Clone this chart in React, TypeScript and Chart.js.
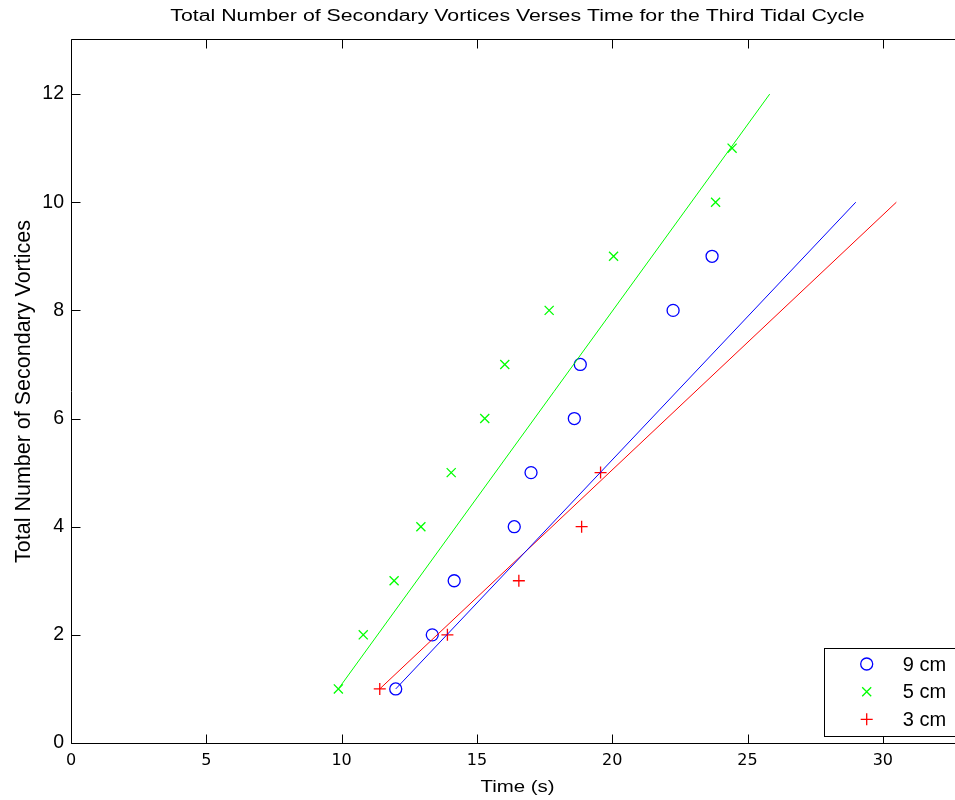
import React, { useEffect, useRef } from "react";
import { Chart, registerables } from "chart.js";

Chart.register(...registerables);

const chartTitle = "Total Number of Secondary Vortices Verses Time for the Third Tidal Cycle";
const xAxisLabel = "Time (s)";
const yAxisLabel = "Total Number of Secondary Vortices";
const xTicks = [0, 5, 10, 15, 20, 25, 30];
const yTicks = [0, 2, 4, 6, 8, 10, 12];
const seriesNames = ["9 cm", "5 cm", "3 cm"];

// 9 cm (blue circles)
const time9 = [12.0, 13.35, 14.16, 16.38, 17.0, 18.6, 18.82, 22.25, 23.69];
const count9 = [1, 2, 3, 4, 5, 6, 7, 8, 9];
// 5 cm (green x)
const time5 = [9.88, 10.8, 11.94, 12.93, 14.05, 15.29, 16.03, 17.67, 20.05, 23.82, 24.43];
const count5 = [1, 2, 3, 4, 5, 6, 7, 8, 9, 10, 11];
// 3 cm (red +)
const time3 = [11.41, 13.91, 16.55, 18.87, 19.57];
const count3 = [1, 2, 3, 4, 5];

// trend lines
const fit9X = [12.0, 29.0];
const fit9Y = [1, 10];
const fit5X = [9.88, 25.82];
const fit5Y = [1, 12];
const fit3X = [11.41, 30.5];
const fit3Y = [1, 10];

const BLUE = "#0000ff";
const GREEN = "#00ff00";
const RED = "#ff0000";

const pts = (xs: number[], ys: number[]) => xs.map((x, i) => ({ x, y: ys[i] }));

function drawMarker(ctx: CanvasRenderingContext2D, kind: string, x: number, y: number, color: string) {
  ctx.save();
  ctx.strokeStyle = color;
  ctx.lineWidth = 1.3;
  ctx.beginPath();
  if (kind === "circle") {
    ctx.arc(x, y, 6, 0, Math.PI * 2);
  } else if (kind === "crossRot") {
    const d = 4.5;
    ctx.moveTo(x - d, y - d);
    ctx.lineTo(x + d, y + d);
    ctx.moveTo(x - d, y + d);
    ctx.lineTo(x + d, y - d);
  } else {
    const d = 6;
    ctx.moveTo(x - d, y);
    ctx.lineTo(x + d, y);
    ctx.moveTo(x, y - d);
    ctx.lineTo(x, y + d);
  }
  ctx.stroke();
  ctx.restore();
}

const framePlugin = {
  id: "matlabFrame",
  afterDraw(chart: any) {
    const { ctx, chartArea: a, scales } = chart;
    const xs = scales.x;
    const ys = scales.y;
    ctx.save();
    ctx.strokeStyle = "#000";
    ctx.lineWidth = 1;
    ctx.beginPath();
    ctx.moveTo(a.left + 0.5, a.bottom + 0.5);
    ctx.lineTo(a.left + 0.5, a.top - 0.5);
    ctx.lineTo(a.right + 0.5, a.top - 0.5);
    ctx.lineTo(a.right + 0.5, a.bottom + 0.5);
    ctx.lineTo(a.left + 0.5, a.bottom + 0.5);
    ctx.stroke();
    const tl = 9;
    ctx.beginPath();
    xTicks.forEach((v) => {
      const px = Math.round(xs.getPixelForValue(v)) + 0.5;
      ctx.moveTo(px, a.bottom + 0.5);
      ctx.lineTo(px, a.bottom + 0.5 - tl);
      ctx.moveTo(px, a.top - 0.5);
      ctx.lineTo(px, a.top - 0.5 + tl);
    });
    yTicks.forEach((v) => {
      const py = Math.round(ys.getPixelForValue(v)) + 0.5;
      ctx.moveTo(a.left + 0.5, py);
      ctx.lineTo(a.left + 0.5 + tl, py);
      ctx.moveTo(a.right + 0.5, py);
      ctx.lineTo(a.right + 0.5 - tl, py);
    });
    ctx.stroke();

    // title
    const cx = (a.left + a.right) / 2;
    ctx.fillStyle = "#000";
    ctx.save();
    ctx.translate(cx, 20.7);
    ctx.scale(1.331, 1);
    ctx.font = "16px 'Liberation Sans', Arial, sans-serif";
    ctx.textAlign = "center";
    ctx.textBaseline = "alphabetic";
    ctx.fillText(chartTitle, 0, 0);
    ctx.restore();

    // x label
    ctx.save();
    ctx.translate(cx, 791.7);
    ctx.scale(1.255, 1);
    ctx.font = "16.3px 'Liberation Sans', Arial, sans-serif";
    ctx.textAlign = "center";
    ctx.textBaseline = "alphabetic";
    ctx.fillText(xAxisLabel, 0, 0);
    ctx.restore();

    // y label
    ctx.save();
    ctx.translate(29.7, (a.top + a.bottom) / 2);
    ctx.rotate(-Math.PI / 2);
    ctx.font = "21.5px 'Liberation Sans', Arial, sans-serif";
    ctx.textAlign = "center";
    ctx.textBaseline = "alphabetic";
    ctx.fillText(yAxisLabel, 0, 0);
    ctx.restore();

    // legend
    const lx = 824, ly = 648, lw = 135, lh = 88;
    ctx.fillStyle = "#fff";
    ctx.fillRect(lx, ly, lw, lh);
    ctx.strokeStyle = "#000";
    ctx.strokeRect(lx + 0.5, ly + 0.5, lw, lh);
    const kinds = ["circle", "crossRot", "cross"];
    const colors = [BLUE, GREEN, RED];
    const rows = [664, 691.7, 719.3];
    ctx.font = "20px 'Liberation Sans', Arial, sans-serif";
    ctx.textAlign = "left";
    ctx.textBaseline = "middle";
    seriesNames.forEach((name, i) => {
      drawMarker(ctx, kinds[i], 866.7, rows[i], colors[i]);
      ctx.fillStyle = "#000";
      ctx.fillText(name, 902.7, rows[i] + 1);
    });
    ctx.restore();
  },
};

export default function App() {
  const ref = useRef<HTMLCanvasElement | null>(null);
  useEffect(() => {
    if (!ref.current) return;
    const chart = new Chart(ref.current, {
      type: "scatter",
      data: {
        datasets: [
          {
            label: "fit 9 cm",
            data: pts(fit9X, fit9Y),
            showLine: true,
            borderColor: BLUE,
            borderWidth: 1,
            pointRadius: 0,
            fill: false,
          },
          {
            label: "fit 5 cm",
            data: pts(fit5X, fit5Y),
            showLine: true,
            borderColor: GREEN,
            borderWidth: 1,
            pointRadius: 0,
            fill: false,
          },
          {
            label: "fit 3 cm",
            data: pts(fit3X, fit3Y),
            showLine: true,
            borderColor: RED,
            borderWidth: 1,
            pointRadius: 0,
            fill: false,
          },
          {
            label: seriesNames[0],
            data: pts(time9, count9),
            pointStyle: "circle",
            pointRadius: 6,
            borderColor: BLUE,
            backgroundColor: "rgba(0,0,0,0)",
            borderWidth: 1.3,
          },
          {
            label: seriesNames[1],
            data: pts(time5, count5),
            pointStyle: "crossRot",
            pointRadius: 6.4,
            borderColor: GREEN,
            backgroundColor: GREEN,
            borderWidth: 1.3,
          },
          {
            label: seriesNames[2],
            data: pts(time3, count3),
            pointStyle: "cross",
            pointRadius: 6,
            borderColor: RED,
            backgroundColor: RED,
            borderWidth: 1.3,
          },
        ],
      },
      options: {
        animation: false,
        responsive: false,
        devicePixelRatio: 1,
        layout: { padding: { top: 40, left: 0, right: 16, bottom: 0 } },
        plugins: {
          legend: { display: false },
          tooltip: { enabled: false },
          title: { display: false },
        },
        scales: {
          x: {
            type: "linear",
            min: 0,
            max: 33,
            grid: { display: false, drawTicks: false },
            border: { display: false },
            ticks: {
              color: "#000",
              padding: 8,
              font: { family: "'DejaVu Sans'", size: 16 },
              maxRotation: 0,
            },
            afterBuildTicks: (s: any) => {
              s.ticks = xTicks.map((v) => ({ value: v }));
            },
            afterFit: (s: any) => {
              s.height = 57;
            },
          },
          y: {
            type: "linear",
            min: 0,
            max: 13,
            grid: { display: false, drawTicks: false },
            border: { display: false },
            ticks: {
              color: "#000",
              padding: 7,
              font: { family: "'Liberation Sans'", size: 19.5 },
            },
            afterBuildTicks: (s: any) => {
              s.ticks = yTicks.map((v) => ({ value: v }));
            },
            afterFit: (s: any) => {
              s.width = 71;
            },
          },
        },
      },
      plugins: [framePlugin],
    });
    return () => chart.destroy();
  }, []);

  return (
    <div
      style={{
        position: "absolute",
        left: 0,
        top: 0,
        width: 955,
        height: 800,
        overflow: "hidden",
        background: "#fff",
      }}
    >
      <canvas ref={ref} width={980} height={800} style={{ display: "block", width: 980, height: 800 }} />
    </div>
  );
}
